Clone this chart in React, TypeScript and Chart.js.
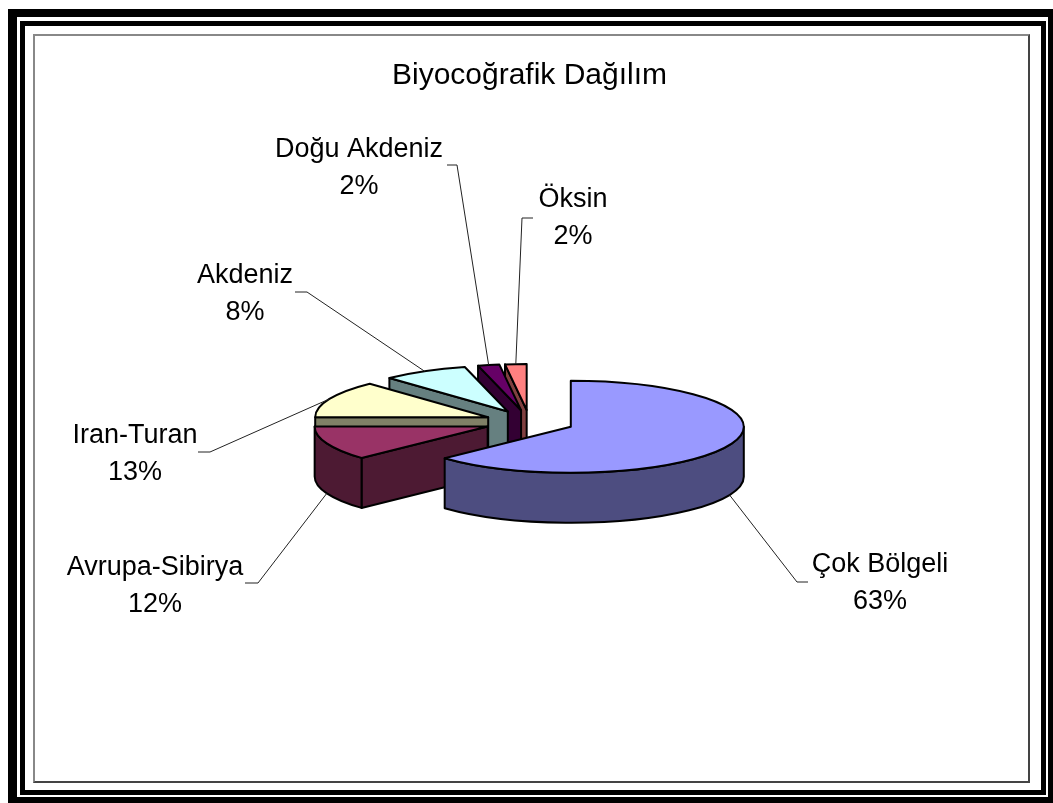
import React, { useEffect, useRef } from "react";
import { Chart, registerables } from "chart.js";

Chart.register(...registerables);

// ---- data ----
const categories = ["Çok Bölgeli", "Avrupa-Sibirya", "Iran-Turan", "Akdeniz", "Doğu Akdeniz", "Öksin"];
const values = [63, 12, 13, 8, 2, 2];
const chartTitle = "Biyocoğrafik Dağılım";

// ---- styles ----
const topColors = ["#9999FF", "#993366", "#FFFFCC", "#CCFFFF", "#660066", "#FF8080"];
const sideColors = ["#4D4D80", "#4D1A33", "#808066", "#668080", "#330033", "#804040"];

// ---- label layout: [center x, baseline of first line] ----
const labelAnchors = [
  [880, 572],
  [155, 575],
  [135, 443],
  [245, 283],
  [359, 157],
  [573, 207],
];
// leader stub: [outer x, inner x, y]
const leaderStubs = [
  [808, 797, 582],
  [245, 258, 583],
  [198, 210, 452],
  [295, 307, 292],
  [447, 457, 165],
  [533, 522, 218],
];

const FONT = "'Liberation Sans', Arial, Helvetica, sans-serif";

const pie3d = {
  id: "pie3d",
  beforeDatasetsDraw(chart: any, _args: any, opts: any) {
    const ctx: CanvasRenderingContext2D = chart.ctx;
    const meta = chart.getDatasetMeta(0);
    const k: number = opts.tilt;
    const depth: number = opts.depth;
    const total = values.reduce((a, b) => a + b, 0);

    const slices = meta.data.map((arc: any, i: number) => {
      const p = arc.getProps(["x", "y", "startAngle", "endAngle", "outerRadius"], true);
      const off = arc.options.offset || 0;
      const mid = (p.startAngle + p.endAngle) / 2;
      const ax = p.x + off * Math.cos(mid);
      const ay = p.y + off * Math.sin(mid) * k;
      const r = p.outerRadius;
      const s = p.startAngle;
      const e = p.endAngle;
      let key = ay;
      let includesFront = false;
      for (let n = -1; n <= 2; n++) {
        const a = Math.PI / 2 + 2 * Math.PI * n;
        if (a >= s && a <= e) includesFront = true;
      }
      if (includesFront) key = Math.max(key, ay + r * k);
      key = Math.max(key, ay + r * k * Math.sin(s), ay + r * k * Math.sin(e));
      return { i, ax, ay, r, s, e, mid, key, color: arc.options.backgroundColor };
    });

    const P = (sl: any, phi: number, dz: number) => [
      sl.ax + sl.r * Math.cos(phi),
      sl.ay + sl.r * k * Math.sin(phi) + dz,
    ];

    ctx.save();
    ctx.lineJoin = "round";
    ctx.lineWidth = 2;
    ctx.strokeStyle = "#000";

    const order = [...slices].sort((a, b) => a.key - b.key);
    for (const sl of order) {
      const side = sideColors[sl.i];
      const wall = (phi: number) => {
        const [x1, y1] = P(sl, phi, 0);
        ctx.beginPath();
        ctx.moveTo(sl.ax, sl.ay);
        ctx.lineTo(x1, y1);
        ctx.lineTo(x1, y1 + depth);
        ctx.lineTo(sl.ax, sl.ay + depth);
        ctx.closePath();
        ctx.fillStyle = side;
        ctx.fill();
        ctx.stroke();
      };
      if (Math.cos(sl.s) < -1e-6) wall(sl.s);
      if (Math.cos(sl.e) > 1e-6) wall(sl.e);

      // curved outer side (front half only)
      for (let n = -1; n <= 1; n++) {
        const lo = Math.max(sl.s, 2 * Math.PI * n);
        const hi = Math.min(sl.e, 2 * Math.PI * n + Math.PI);
        if (hi - lo > 1e-6) {
          ctx.beginPath();
          ctx.ellipse(sl.ax, sl.ay, sl.r, sl.r * k, 0, lo, hi, false);
          const [hx, hy] = P(sl, hi, depth);
          ctx.lineTo(hx, hy);
          ctx.ellipse(sl.ax, sl.ay + depth, sl.r, sl.r * k, 0, hi, lo, true);
          ctx.closePath();
          ctx.fillStyle = side;
          ctx.fill();
          ctx.stroke();
        }
      }

      // top face
      ctx.beginPath();
      ctx.moveTo(sl.ax, sl.ay);
      ctx.ellipse(sl.ax, sl.ay, sl.r, sl.r * k, 0, sl.s, sl.e, false);
      ctx.closePath();
      ctx.fillStyle = sl.color;
      ctx.fill();
      ctx.stroke();
    }

    // leader lines and labels
    ctx.lineWidth = 1;
    ctx.strokeStyle = "#222";
    for (const sl of slices) {
      const [x0, y0] = P(sl, sl.mid, Math.sin(sl.mid) > 0 ? depth : 0);
      const [sx1, sx2, sy] = leaderStubs[sl.i];
      ctx.beginPath();
      ctx.moveTo(x0, y0);
      ctx.lineTo(sx2, sy);
      ctx.lineTo(sx1, sy);
      ctx.stroke();
    }
    ctx.fillStyle = "#000";
    ctx.font = `27px ${FONT}`;
    ctx.textAlign = "center";
    ctx.textBaseline = "alphabetic";
    for (const sl of slices) {
      const [cx, by] = labelAnchors[sl.i];
      ctx.fillText(categories[sl.i], cx, by);
      ctx.fillText(Math.round((values[sl.i] / total) * 100) + "%", cx, by + 37);
    }
    ctx.restore();
    return false;
  },
};

export default function App() {
  const ref = useRef<HTMLCanvasElement>(null);
  useEffect(() => {
    if (!ref.current) return;
    const chart = new Chart(ref.current, {
      type: "pie",
      data: {
        labels: categories,
        datasets: [
          {
            data: values,
            backgroundColor: topColors,
            borderColor: "#000",
            borderWidth: 2,
            offset: 45,
          },
        ],
      },
      options: {
        responsive: false,
        animation: false,
        events: [],
        radius: 173,
        layout: { padding: { left: 6, right: 0, top: 0, bottom: 53 } },
        plugins: {
          legend: { display: false },
          tooltip: { enabled: false },
          title: {
            display: true,
            text: chartTitle,
            color: "#000",
            font: { size: 30, family: FONT, weight: "normal", lineHeight: 1.2 },
            padding: { top: 58, bottom: 0 },
          },
          pie3d: { tilt: 0.266, depth: 50 },
        } as any,
      },
      plugins: [pie3d],
    } as any);
    return () => chart.destroy();
  }, []);

  return (
    <div style={{ position: "absolute", left: 0, top: 0, width: 1053, height: 803, background: "#fff", overflow: "hidden" }}>
      <canvas ref={ref} width={1053} height={803} style={{ position: "absolute", left: 0, top: 0, display: "block" }} />
      <div
        style={{
          position: "absolute",
          left: 8,
          top: 9,
          width: 1045,
          height: 794,
          boxSizing: "border-box",
          borderStyle: "solid",
          borderColor: "#000",
          borderWidth: "8px 5px 6px 9px",
          pointerEvents: "none",
        }}
      />
      <div
        style={{
          position: "absolute",
          left: 20,
          top: 21,
          width: 1026,
          height: 774,
          boxSizing: "border-box",
          border: "5px solid #000",
          pointerEvents: "none",
        }}
      />
      <div
        style={{
          position: "absolute",
          left: 33,
          top: 34,
          width: 997,
          height: 749,
          boxSizing: "border-box",
          borderStyle: "solid",
          borderWidth: "2px",
          borderColor: "#888 #444 #444 #888",
          pointerEvents: "none",
        }}
      />
    </div>
  );
}
